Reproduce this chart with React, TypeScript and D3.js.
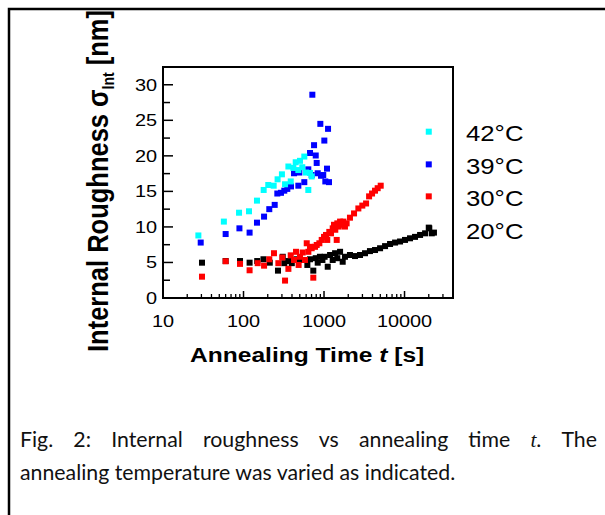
import React, { useLayoutEffect, useRef } from "react";
import * as d3 from "d3";

// ---- data (annealing time t [s], internal roughness [nm]) ----
const t42 = [27.5, 57, 88, 117, 147, 178, 203, 237, 265, 300, 328, 361, 386, 416, 445, 480, 503, 537, 569, 597, 638, 670, 703];
const v42 = [8.8, 10.75, 12.0, 12.2, 13.7, 15.2, 15.9, 15.8, 16.7, 17.4, 16.0, 18.5, 16.4, 18.3, 19.1, 18.0, 19.3, 18.4, 19.9, 17.65, 15.2, 17.6, 17.1];

const t39 = [29.4, 60, 89, 119, 147, 180, 209, 244, 263, 292, 321, 350, 389, 424, 480, 494, 569, 638, 670, 703, 716, 752, 789, 811, 835, 900, 918, 978, 1009, 1038, 1089, 1122, 1153];
const v39 = [7.8, 9.0, 9.8, 9.2, 10.6, 11.45, 12.5, 13.1, 14.7, 14.8, 15.1, 15.35, 15.7, 17.55, 15.8, 17.65, 16.3, 18.1, 20.4, 17.3, 28.6, 21.5, 20.05, 19.0, 17.55, 24.5, 17.2, 17.3, 22.15, 16.4, 18.2, 23.8, 16.3];

const t30 = [30.5, 60, 90.5, 119, 150, 180, 209, 239, 271, 303, 328, 361, 386, 424, 449, 484, 503, 543, 580, 610, 639, 670, 703, 736, 773, 811, 875, 936, 1000, 1059, 1097, 1163, 1222, 1282, 1330, 1380, 1438, 1462, 1523, 1583, 1660, 1740, 1820, 1910, 2100, 2360, 2670, 2990, 3330, 3630, 3950, 4300, 4640, 5060];
const v30 = [3.0, 5.17, 4.8, 3.9, 4.9, 4.55, 5.45, 6.3, 4.9, 5.7, 2.45, 4.1, 6.0, 5.35, 6.5, 4.65, 5.8, 6.4, 5.35, 7.7, 6.5, 7.2, 7.0, 2.86, 7.2, 7.46, 7.7, 8.17, 8.6, 8.87, 8.17, 9.3, 9.1, 9.8, 10.3, 9.6, 8.17, 10.5, 10.05, 10.75, 10.3, 10.75, 10.05, 10.5, 11.3, 11.9, 12.6, 13.0, 13.3, 14.3, 14.7, 15.1, 15.45, 15.8];

const t20 = [30.5, 60, 90.5, 119, 148, 177, 212, 268, 307, 321, 361, 398, 457, 525, 621, 670, 736, 789, 835, 890, 955, 1018, 1112, 1189, 1282, 1372, 1462, 1583, 1706, 1820, 2100, 2427, 2800, 3230, 3720, 4300, 4970, 5730, 6610, 7630, 8800, 10140, 11700, 13500, 15600, 18000, 20300, 21800, 23200];
const v20 = [4.97, 5.2, 5.2, 4.97, 5.2, 5.45, 4.97, 3.85, 5.8, 4.9, 5.2, 4.9, 5.45, 5.35, 4.65, 5.45, 3.85, 5.6, 4.97, 5.8, 5.35, 5.8, 4.4, 6.05, 5.35, 6.3, 5.6, 6.5, 5.1, 5.8, 6.05, 5.9, 6.05, 6.3, 6.6, 6.75, 7.0, 7.3, 7.6, 7.8, 7.95, 8.17, 8.4, 8.6, 8.87, 9.1, 9.8, 9.1, 9.2];

const legendLabels = ["42°C", "39°C", "30°C", "20°C"];
const legendColors = ["#00FFFF", "#0000FF", "#FF0000", "#000000"];
const legendT = 20000;
const legendV = [23.4, 18.8, 14.3, 9.9];

const xMajor = [10, 100, 1000, 10000];
const xMajorLabels = ["10", "100", "1000", "10000"];
const yMajor = [0, 5, 10, 15, 20, 25, 30];
const yMinor = [2.5, 7.5, 12.5, 17.5, 22.5, 27.5];

const captionLine1 = ["Fig.", "2:", "Internal", "roughness", "vs", "annealing", "time", "t.", "The"];
const captionLine2 = "annealing temperature was varied as indicated.";

const series = [
  { t: t20, v: v20, color: "#000000" },
  { t: t30, v: v30, color: "#FF0000" },
  { t: t39, v: v39, color: "#0000FF" },
  { t: t42, v: v42, color: "#00FFFF" },
];

const SX = 1.17; // horizontal stretch of the embedded figure
const FONT = "'Liberation Sans', Arial, sans-serif";
const CAPFONT = "Lato, 'Open Sans', sans-serif";
const CAPSIZE = 21.3;

export default function App() {
  const wordRefs = useRef<(SVGTextElement | null)[]>([]);

  const x = d3.scaleLog().domain([10, 40000]).range([163, 453]);
  const y = d3.scaleLinear().domain([0, 32.5]).range([298, 67]);

  const xMinor: number[] = [];
  for (let dec = 10; dec <= 10000; dec *= 10) {
    for (let k = 2; k <= 9; k++) {
      const v = dec * k;
      if (v < 40000) xMinor.push(v);
    }
  }

  useLayoutEffect(() => {
    const els = wordRefs.current.filter(Boolean) as SVGTextElement[];
    if (els.length !== captionLine1.length) return;
    const widths = els.map((e) => e.getBBox().width);
    const total = widths.reduce((a, b) => a + b, 0);
    const left = 20;
    const right = 597;
    const gap = (right - left - total) / (els.length - 1);
    let cx = left;
    els.forEach((e, i) => {
      e.setAttribute("x", String(cx));
      cx += widths[i] + gap;
    });
  }, []);

  const ms = 6;

  return (
    <svg
      width={605}
      height={515}
      style={{ position: "absolute", left: 0, top: 0, background: "#fff" }}
    >
      <rect x={0} y={0} width={605} height={515} fill="#fff" />
      {/* outer frame */}
      <path d="M9,640 L9,9 L700,9" fill="none" stroke="#000" strokeWidth={2.5} />

      {/* plot frame */}
      <rect x={163} y={67} width={290} height={231} fill="none" stroke="#000" strokeWidth={2} />

      {/* x ticks */}
      {xMajor.map((v) => (
        <line key={"xM" + v} x1={x(v)} x2={x(v)} y1={298} y2={291} stroke="#000" strokeWidth={1.5} />
      ))}
      {xMinor.map((v) => (
        <line key={"xm" + v} x1={x(v)} x2={x(v)} y1={298} y2={294} stroke="#000" strokeWidth={1.3} />
      ))}
      {/* y ticks */}
      {yMajor.map((v) => (
        <line key={"yM" + v} x1={163} x2={173} y1={y(v)} y2={y(v)} stroke="#000" strokeWidth={1.5} />
      ))}
      {yMinor.map((v) => (
        <line key={"ym" + v} x1={163} x2={170} y1={y(v)} y2={y(v)} stroke="#000" strokeWidth={1.5} />
      ))}

      {/* tick labels */}
      {xMajor.map((v, i) => (
        <text
          key={"xl" + v}
          transform={`translate(${x(v)},327) scale(${SX},1)`}
          textAnchor="middle"
          fontFamily={FONT}
          fontSize={17}
        >
          {xMajorLabels[i]}
        </text>
      ))}
      {yMajor.map((v) => (
        <text
          key={"yl" + v}
          transform={`translate(157,${y(v) + 6}) scale(${SX},1)`}
          textAnchor="end"
          fontFamily={FONT}
          fontSize={17}
        >
          {v}
        </text>
      ))}

      {/* axis titles */}
      <text
        transform={`translate(190,362) scale(${SX},1)`}
        fontFamily={FONT}
        fontSize={21}
        fontWeight="bold"
      >
        Annealing Time <tspan fontStyle="italic">t</tspan> [s]
      </text>
      <text
        transform={`translate(108,181) scale(${SX},1) rotate(-90)`}
        textAnchor="middle"
        fontFamily={FONT}
        fontSize={25.5}
        fontWeight="bold"
      >
        Internal Roughness σ
        <tspan fontSize={14} dy={5}>Int</tspan>
        <tspan dy={-5}> [nm]</tspan>
      </text>

      {/* data */}
      {series.map((s, si) =>
        s.t.map((tv, i) => (
          <rect
            key={"p" + si + "_" + i}
            x={x(tv) - ms / 2}
            y={y(s.v[i]) - ms / 2}
            width={ms}
            height={ms}
            fill={s.color}
          />
        ))
      )}

      {/* legend */}
      {legendLabels.map((lab, i) => (
        <g key={"lg" + i}>
          <rect
            x={x(legendT) - ms / 2}
            y={y(legendV[i]) - ms / 2}
            width={ms}
            height={ms}
            fill={legendColors[i]}
          />
          <text
            transform={`translate(466,${141 + i * 32.5}) scale(${SX},1)`}
            fontFamily={FONT}
            fontSize={22}
          >
            {lab}
          </text>
        </g>
      ))}

      {/* caption */}
      {captionLine1.map((w, i) => (
        <text
          key={"cw" + i}
          ref={(el) => {
            wordRefs.current[i] = el;
          }}
          x={20 + i * 60}
          y={447}
          fontFamily={w === "t." ? undefined : CAPFONT}
          fontSize={CAPSIZE}
          fill="#111"
        >
          {w === "t." ? (
            <>
              <tspan fontFamily="'Liberation Serif', serif" fontStyle="italic">t</tspan>
              <tspan fontFamily={CAPFONT}>.</tspan>
            </>
          ) : (
            w
          )}
        </text>
      ))}
      <text x={20} y={480} fontFamily={CAPFONT} fontSize={CAPSIZE} fill="#111">
        {captionLine2}
      </text>
    </svg>
  );
}
